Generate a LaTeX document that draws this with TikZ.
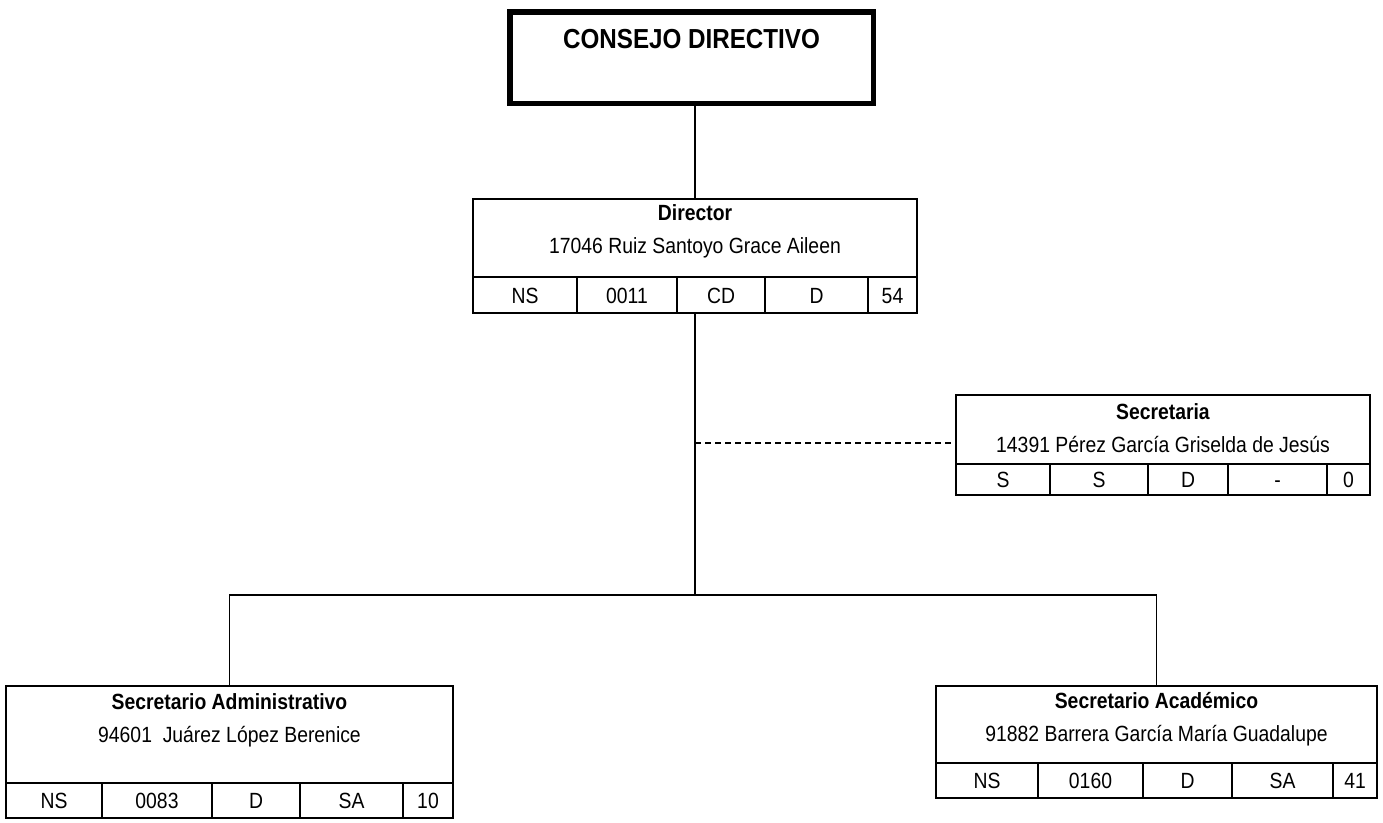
\documentclass[tikz,border=0pt]{standalone}
\usepackage{fontspec}
\setmainfont{Liberation Sans}[FakeStretch=0.88]
\usetikzlibrary{positioning}

\begin{document}
\begin{tikzpicture}[
    x=1pt, y=-1pt,
    marco/.style={
        rectangle,
        draw,
        line width=1.5pt,
        inner sep=0pt
    },
    celda/.style={
        rectangle,
        draw,
        line width=1.5pt,
        inner sep=0pt,
        text height=16pt,
        text depth=0pt,
        font=\fontsize{22}{26}\selectfont
    },
    texto/.style={
        align=center,
        inner sep=0pt,
        font=\fontsize{22}{33}\selectfont
    },
    linea/.style={line width=1.3pt}
]
    \useasboundingbox (0,0) rectangle (1383,822);

    % Consejo
    \node[marco, line width=5.5pt, minimum width=363.5pt, minimum height=91.5pt] (consejo) at (691.5,57.5) {};
    \node[texto, font=\bfseries\fontsize{27.5}{32}\selectfont] (consejotxt) at (691.5,39) {CONSEJO DIRECTIVO};

    % Director
    \node[marco, minimum width=444pt, minimum height=78pt] (dir) at (695,238) {};
    \node[texto] (dirtxt) at (695,231.5) {\textbf{Director}\\17046 Ruiz Santoyo Grace Aileen};
    \foreach \a/\b/\t [count=\i] in {473/577/NS, 577/677/0011, 677/765/CD, 765/868/D, 868/917/54} {
        \node[celda, minimum width={(\b-\a)*1pt}, minimum height=36pt] (dir\i) at ({(\a+\b)/2},295) {\t};
    }

    % Secretaria
    \node[marco, minimum width=414pt, minimum height=69pt] (secr) at (1163,429.5) {};
    \node[texto] (secrtxt) at (1163,428.5) {\textbf{Secretaria}\\14391 Pérez García Griselda de Jesús};
    \foreach \a/\b/\t [count=\i] in {956/1050/S, 1050/1148/S, 1148/1228/D, 1228/1327/-, 1327/1370/0} {
        \node[celda, minimum width={(\b-\a)*1pt}, minimum height=31pt] (secr\i) at ({(\a+\b)/2},479.5) {\t};
    }

    % Secretario Administrativo
    \node[marco, minimum width=447pt, minimum height=97pt] (adm) at (229.5,734.5) {};
    \node[texto] (admtxt) at (229.5,720) {\textbf{Secretario Administrativo}\\94601~ Juárez López Berenice};
    \foreach \a/\b/\t [count=\i] in {6/102/NS, 102/212/0083, 212/300/D, 300/403/SA, 403/453/10} {
        \node[celda, minimum width={(\b-\a)*1pt}, minimum height=35pt] (adm\i) at ({(\a+\b)/2},800.5) {\t};
    }

    % Secretario Academico
    \node[marco, minimum width=441pt, minimum height=77pt] (acad) at (1156.5,724.5) {};
    \node[texto] (acadtxt) at (1156.5,719) {\textbf{Secretario Académico}\\91882 Barrera García María Guadalupe};
    \foreach \a/\b/\t [count=\i] in {936/1038/NS, 1038/1143/0160, 1143/1232/D, 1232/1333/SA, 1333/1377/41} {
        \node[celda, minimum width={(\b-\a)*1pt}, minimum height=35pt] (acad\i) at ({(\a+\b)/2},780.5) {\t};
    }

    % Conexiones
    \coordinate (rama) at (695,595);
    \coordinate (enlace) at (695,443);
    \draw[linea] (consejo.south -| dir.north) -- (dir.north);
    \draw[linea] (dir3.south -| dir.north) -- (rama);
    \draw[linea] (adm.north) |- (rama) -| (acad.north);
    \draw[linea, dash pattern=on 6pt off 4pt] (enlace) -- (enlace -| secr.west);

\end{tikzpicture}
\end{document}
